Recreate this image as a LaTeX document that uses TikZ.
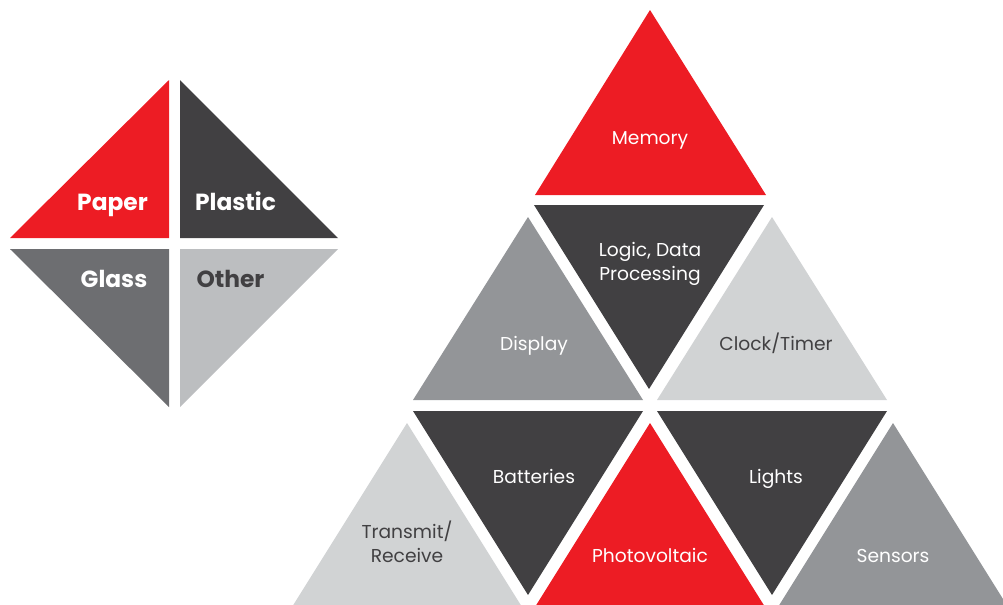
\documentclass[tikz,border=0pt]{standalone}
\usepackage{fontspec}
\setmainfont{Poppins}
\definecolor{cred}{HTML}{ED1C24}
\definecolor{cdark}{HTML}{414042}
\definecolor{cmid}{HTML}{939598}
\definecolor{clight}{HTML}{D1D3D4}
\definecolor{cglass}{HTML}{6D6E71}
\definecolor{cother}{HTML}{BCBEC0}
\tikzset{
  lab/.style={font=\fontsize{14}{17.5}\selectfont, text=white, align=center, inner sep=0pt, anchor=base},
  labd/.style={lab, text=cdark},
  blab/.style={font=\bfseries\fontsize{17.5}{20}\selectfont, text=white, inner sep=0pt, anchor=base},
}
\begin{document}
\begin{tikzpicture}[x=0.75pt,y=-0.75pt]
\useasboundingbox (0,0) rectangle (1003,604);
\clip (0,0) rectangle (1003,604);
% diamond
\fill[cred] (10,238) -- (169,80) -- (169,238) -- cycle;
\fill[cdark] (180,238) -- (180,80) -- (338,238) -- cycle;
\fill[cglass] (10,249) -- (169,249) -- (169,407) -- cycle;
\fill[cother] (180,249) -- (338,249) -- (180,407) -- cycle;
\node[blab] (paper) at (112.5,210) {Paper};
\node[blab] (plastic) at (235.5,210) {Plastic};
\node[blab] (glass) at (114,287) {Glass};
\node[blab, text=cdark] (other) at (230.5,287) {Other};
% pyramid row 1
\fill[cred] (650,10) -- (766,195) -- (535,195) -- cycle;
% row 2
\fill[cmid] (528,217) -- (643,400) -- (413,400) -- cycle;
\fill[cdark] (534,205) -- (764,205) -- (649,389) -- cycle;
\fill[clight] (772,217) -- (887,400) -- (657,400) -- cycle;
% row 3
\fill[clight] (407,423) -- (522,607) -- (292,607) -- cycle;
\fill[cdark] (413,411) -- (643,411) -- (528,595) -- cycle;
\fill[cred] (650,423) -- (765,607) -- (535,607) -- cycle;
\fill[cdark] (657,411) -- (887,411) -- (772,595) -- cycle;
\fill[cmid] (893,423) -- (1008,607) -- (778,607) -- cycle;
% labels
\node[lab] (memory) at (650,144) {Memory};
\node[lab] (logic) at (650,280) {Logic, Data\\Processing};
\node[lab] (display) at (534,350) {Display};
\node[labd] (clock) at (776,350) {Clock/Timer};
\node[labd, font=\fontsize{14}{18}\selectfont] (transmit) at (407,562) {Transmit/\\Receive};
\node[lab] (batteries) at (534,483) {Batteries};
\node[lab] (photo) at (650,562) {Photovoltaic};
\node[lab] (lights) at (776,483) {Lights};
\node[lab] (sensors) at (893,562) {Sensors};
\end{tikzpicture}
\end{document}
